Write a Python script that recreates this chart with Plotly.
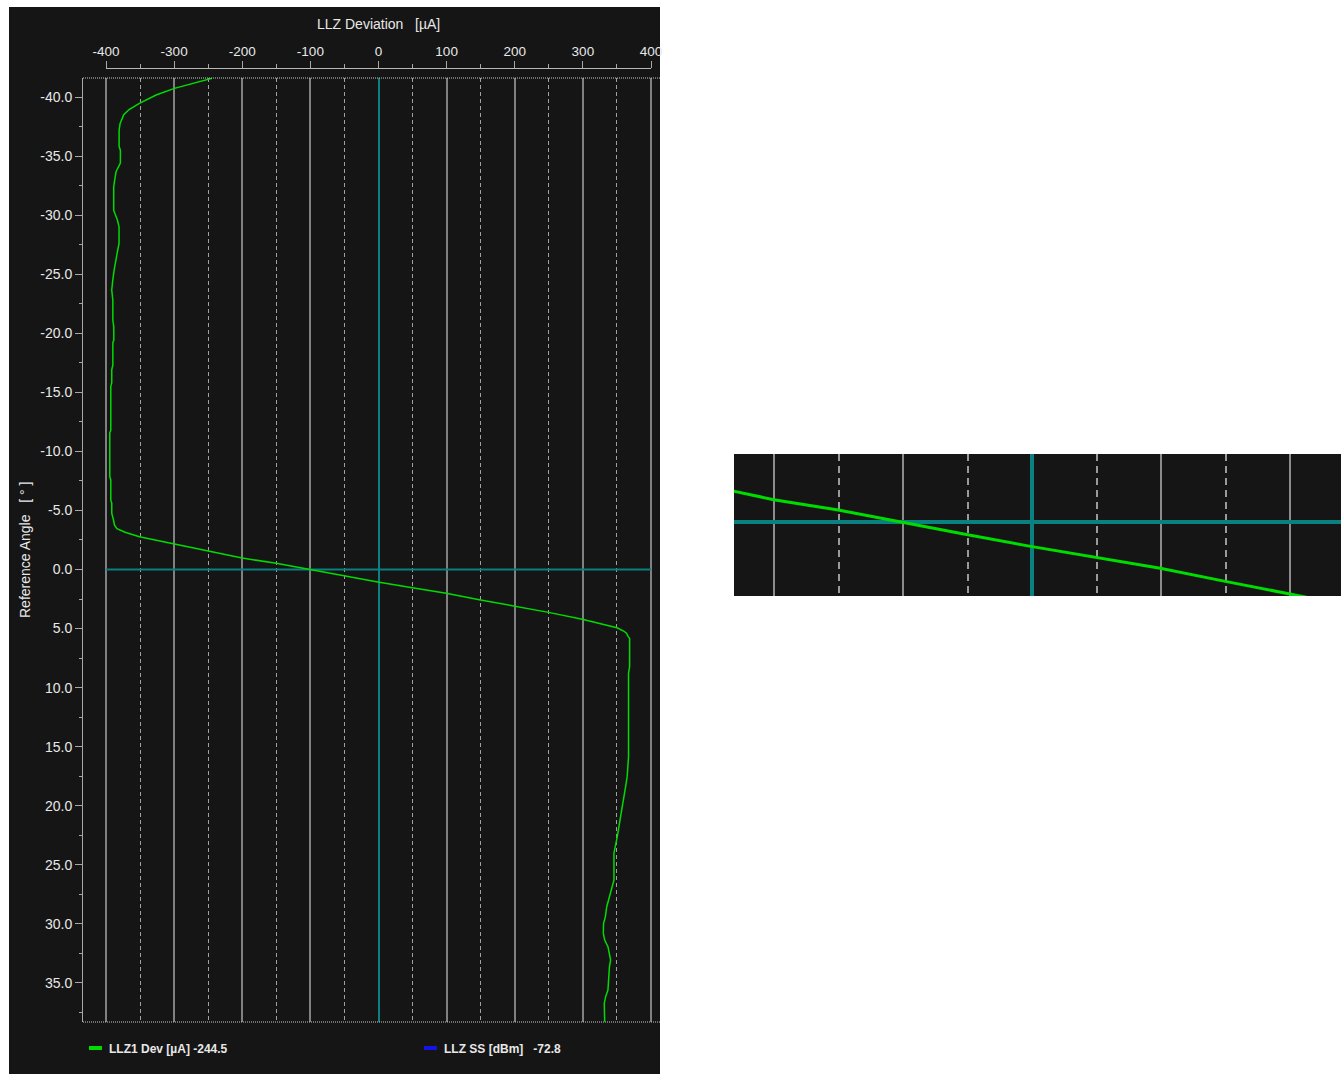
import plotly.graph_objects as go

# ---- LLZ1 course deviation versus reference angle ----
ref_angle_deg = [
    -41.58, -41.10, -40.73, -40.17, -39.46, -38.96, -38.50, -37.77, -37.20, -35.80,
    -35.50, -34.40, -34.10, -33.70, -33.00, -32.40, -30.40, -30.15, -29.60, -29.00,
    -27.60, -26.90, -26.20, -25.35, -24.50, -23.66, -22.80, -21.10, -20.55, -19.40,
    -19.20, -17.30, -16.90, -15.80, -15.50, -11.80, -11.55, -7.86, -7.58, -5.88,
    -5.60, -4.76, -4.19, -3.77, -3.45, -3.15, -2.78, -2.44, -2.13, -1.57,
    -0.97, -0.52, 0.01, 0.55, 1.06, 1.54, 2.01, 2.58, 3.09, 3.63,
    4.22, 4.93, 5.21, 5.40, 5.69, 5.83, 8.23, 8.79, 15.85, 17.54,
    18.38, 19.51, 20.64, 21.77, 22.62, 23.47, 24.00, 26.30, 26.85, 27.70,
    28.55, 29.40, 29.95, 30.80, 31.37, 31.93, 32.50, 33.06, 33.62, 35.03,
    35.60, 36.16, 36.72, 38.28,
]
llz1_dev_ua = [
    -244.5, -277.5, -299.6, -326.5, -351.0, -365.6, -374.0, -379.3, -380.8, -380.8,
    -378.9, -378.9, -381.3, -385.2, -387.2, -388.7, -388.7, -387.2, -383.3, -380.9,
    -380.9, -383.3, -385.7, -388.1, -390.1, -391.6, -390.0, -390.0, -388.6, -388.6,
    -390.0, -390.0, -391.6, -391.6, -393.0, -393.0, -394.5, -394.5, -393.0, -393.0,
    -391.6, -391.6, -389.0, -387.7, -384.0, -372.0, -351.0, -322.0, -300.6, -250.6,
    -200.2, -150.2, -101.3, -49.9, -1.0, 49.5, 99.4, 149.8, 198.7, 249.6,
    299.0, 350.0, 359.8, 364.0, 366.5, 368.6, 368.6, 367.0, 367.0, 365.0,
    362.7, 359.8, 356.3, 352.9, 350.5, 347.0, 345.6, 345.6, 343.0, 339.0,
    335.0, 333.0, 330.4, 330.0, 332.0, 336.8, 339.0, 340.7, 339.0, 338.0,
    336.8, 333.4, 331.4, 332.0,
]
llz_ss_dbm = -72.8

# ---- axis ticks ----
dev_major_ticks = [-400, -300, -200, -100, 0, 100, 200, 300, 400]
dev_minor_ticks = [-350, -250, -150, -50, 50, 150, 250, 350]
angle_major_ticks = [-40, -35, -30, -25, -20, -15, -10, -5, 0, 5, 10, 15, 20, 25, 30, 35]
angle_minor_ticks = [-37.5, -32.5, -27.5, -22.5, -17.5, -12.5, -7.5, -2.5,
                     2.5, 7.5, 12.5, 17.5, 22.5, 27.5, 32.5, 37.5]
zoom_major_ticks = [-200, -100, 100, 200]
zoom_minor_ticks = [-150, -50, 50, 150]

# ---- page geometry / styling ----
W, H = 1341, 1074
PANEL = "#151515"
TEXT = "#e8e8e8"
AXIS = "#a8a8a8"
GRID = "#808080"
GRID_DASH = "#a0a0a0"
TEAL = "#0a8080"
GREEN = "#00dc00"
BLUE = "#1414e6"
FONT = "Liberation Sans, Arial, sans-serif"


def px(x):
    return x / W


def py(y):
    return 1 - y / H


fig = go.Figure()

# main deviation trace
fig.add_trace(go.Scatter(
    x=llz1_dev_ua, y=ref_angle_deg, mode="lines",
    line=dict(color=GREEN, width=1.5), xaxis="x", yaxis="y",
    hoverinfo="skip", showlegend=False,
))
# carrier for the scale drawn above the plot
fig.add_trace(go.Scatter(
    x=[], y=[], mode="lines", xaxis="x2", yaxis="y",
    hoverinfo="skip", showlegend=False,
))
# magnified view around the course line
fig.add_trace(go.Scatter(
    x=llz1_dev_ua, y=ref_angle_deg, mode="lines",
    line=dict(color=GREEN, width=3), xaxis="x3", yaxis="y3",
    hoverinfo="skip", showlegend=False,
))

shapes = [
    # dark instrument panel
    dict(type="rect", xref="paper", yref="paper", layer="below",
         x0=px(9), x1=px(660), y0=0, y1=py(7),
         fillcolor=PANEL, line=dict(width=0)),
    # dark backing of the magnified view
    dict(type="rect", xref="paper", yref="paper", layer="below",
         x0=px(734), x1=1.0, y0=py(596), y1=py(454),
         fillcolor=PANEL, line=dict(width=0)),
    # dotted frame top / bottom
    dict(type="line", xref="paper", yref="paper", x0=px(83), x1=px(660),
         y0=py(78), y1=py(78), line=dict(color="#c8c8c8", width=1, dash="1px,1px")),
    dict(type="line", xref="paper", yref="paper", x0=px(83), x1=px(660),
         y0=py(1022), y1=py(1022), line=dict(color="#c8c8c8", width=1, dash="1px,1px")),
    # course line (0 deg)
    dict(type="line", xref="x", yref="y", layer="between",
         x0=dev_major_ticks[0], x1=dev_major_ticks[-1], y0=0, y1=0,
         line=dict(color=TEAL, width=2)),
    # legend swatches
    dict(type="rect", xref="paper", yref="paper", x0=px(89), x1=px(102),
         y0=py(1050), y1=py(1046), fillcolor=GREEN, line=dict(width=0)),
    dict(type="rect", xref="paper", yref="paper", x0=px(424), x1=px(437),
         y0=py(1050), y1=py(1046), fillcolor=BLUE, line=dict(width=0)),
]

NBSP3 = "\u00a0\u00a0\u00a0"
annotations = [
    dict(text=f"LLZ Deviation{NBSP3}[µA]", xref="paper", yref="paper",
         x=px(378), y=py(24), xanchor="center", yanchor="middle", showarrow=False,
         font=dict(family=FONT, size=14, color=TEXT)),
    dict(text=f"Reference Angle{NBSP3}[ ° ]", xref="paper", yref="paper",
         x=px(25), y=py(550), xanchor="center", yanchor="middle", showarrow=False,
         textangle=-90, font=dict(family=FONT, size=14, color=TEXT)),
    dict(text=f"<b>LLZ1 Dev [µA] {llz1_dev_ua[0]:.1f}</b>", xref="paper", yref="paper",
         x=px(107), y=py(1048.5), xanchor="left", yanchor="middle", showarrow=False,
         font=dict(family=FONT, size=12, color=TEXT)),
    dict(text=f"<b>LLZ SS [dBm]{NBSP3}{llz_ss_dbm:.1f}</b>", xref="paper", yref="paper",
         x=px(442), y=py(1048.5), xanchor="left", yanchor="middle", showarrow=False,
         font=dict(family=FONT, size=12, color=TEXT)),
]

fig.update_layout(
    width=W, height=H, autosize=False,
    margin=dict(l=0, r=0, t=0, b=0, pad=0, autoexpand=False),
    paper_bgcolor="white", plot_bgcolor="rgba(0,0,0,0)",
    showlegend=False, hovermode=False,
    font=dict(family=FONT, color=TEXT, size=13),
    shapes=shapes, annotations=annotations,
    xaxis=dict(
        domain=[px(83), px(660)], range=[-433.8, 413.2], anchor="y",
        showticklabels=False, ticks="", showline=False, automargin=False,
        tickmode="array", tickvals=dev_major_ticks,
        showgrid=True, gridcolor=GRID, gridwidth=1.5,
        minor=dict(tickmode="array", tickvals=dev_minor_ticks, ticks="",
                   showgrid=True, gridcolor=GRID_DASH, gridwidth=1, griddash="4px,3px"),
        zeroline=True, zerolinecolor=TEAL, zerolinewidth=2,
        fixedrange=True,
    ),
    xaxis2=dict(
        domain=[px(106), px(651)], range=[-400, 400], anchor="free",
        position=py(68), side="top", automargin=False,
        tickmode="array", tickvals=dev_major_ticks,
        ticktext=[f"{v:d}" for v in dev_major_ticks],
        ticks="outside", ticklen=7, tickwidth=1, tickcolor=AXIS,
        tickfont=dict(family=FONT, size=13.5, color=TEXT),
        minor=dict(tickmode="array", tickvals=dev_minor_ticks, ticks="outside",
                   ticklen=4, tickwidth=1, tickcolor=AXIS, showgrid=False),
        showline=True, linecolor="#b8b8b8", linewidth=1,
        showgrid=False, zeroline=False, fixedrange=True,
    ),
    yaxis=dict(
        domain=[py(1022), py(78)], range=[38.31, -41.61], anchor="x",
        automargin=False,
        tickmode="array", tickvals=angle_major_ticks,
        ticktext=[f"{v:.1f}" for v in angle_major_ticks],
        ticks="outside", ticklen=7, tickwidth=1, tickcolor=AXIS,
        tickfont=dict(family=FONT, size=14, color=TEXT),
        minor=dict(tickmode="array", tickvals=angle_minor_ticks, ticks="outside",
                   ticklen=3, tickwidth=1, tickcolor=AXIS, showgrid=False),
        showline=True, linecolor=AXIS, linewidth=1,
        showgrid=False, zeroline=False, fixedrange=True,
    ),
    xaxis3=dict(
        domain=[px(734), 1.0], range=[-231, 239.5], anchor="y3",
        showticklabels=False, ticks="", showline=False, automargin=False,
        tickmode="array", tickvals=zoom_major_ticks,
        showgrid=True, gridcolor="#8c8c8c", gridwidth=2,
        minor=dict(tickmode="array", tickvals=zoom_minor_ticks, ticks="",
                   showgrid=True, gridcolor="#9a9a9a", gridwidth=2, griddash="7px,5px"),
        zeroline=True, zerolinecolor=TEAL, zerolinewidth=4,
        fixedrange=True,
    ),
    yaxis3=dict(
        domain=[py(596), py(454)], range=[3.217, -2.957], anchor="x3",
        showticklabels=False, ticks="", showline=False, showgrid=False,
        automargin=False,
        zeroline=True, zerolinecolor=TEAL, zerolinewidth=4,
        fixedrange=True,
    ),
)

fig.write_html("out.html", config={"displayModeBar": False})
